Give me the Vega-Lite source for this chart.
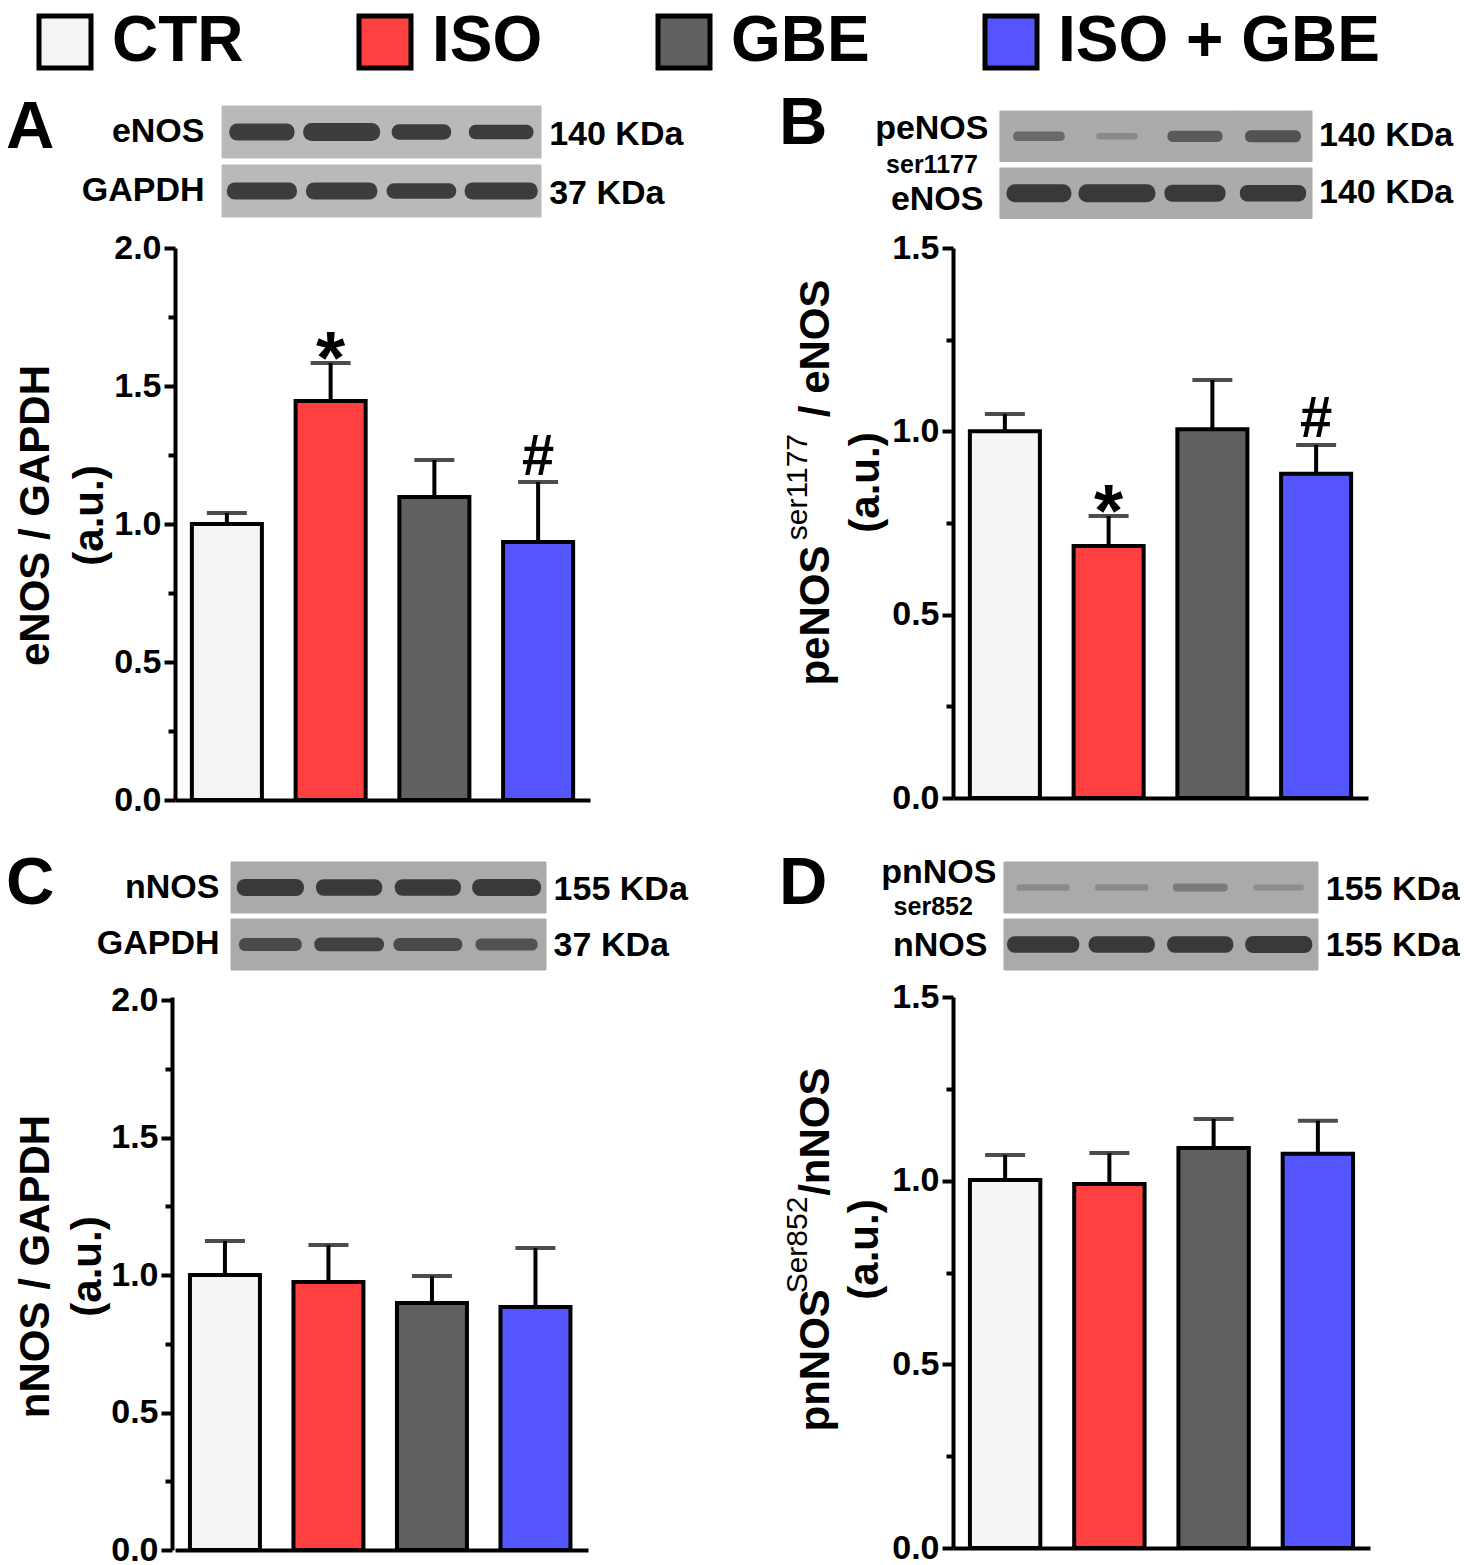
{"$schema":"https://vega.github.io/schema/vega-lite/v6.json","background":"white","padding":{"left":6,"top":10,"right":0,"bottom":0},"autosize":{"type":"pad"},"columns":2,"spacing":{"row":27,"column":363},"bounds":"flush","align":"each","resolve":{"scale":{"fill":"shared"}},
"config":{"view":{"stroke":null},"font":"Liberation Sans","title":{"font":"Liberation Sans","fontWeight":"bold","fontSize":67,"anchor":"start","frame":"group","baseline":"alphabetic","offset":0,"color":"black"},"axis":{"grid":false,"domainColor":"black","domainWidth":4,"tickColor":"black","tickWidth":4,"labelColor":"black","titleColor":"black","labelFont":"Liberation Sans","titleFont":"Liberation Sans","labelFontWeight":"bold","titleFontWeight":"bold","labelFontSize":34,"titleFontSize":42,"titleAngle":270,"titleAlign":"center","titleBaseline":"alphabetic","labelPadding":3}},
"concat":[
{"width":415,"height":115,"title":{"text":"A","dx":-169,"dy":60},"data":{"values":[
{"lane":"CTR","protein":"eNOS","extent":0.82,"density":0.95,"kda":"140 KDa"},{"lane":"ISO","protein":"eNOS","extent":1.0,"density":1.0,"kda":"140 KDa"},{"lane":"GBE","protein":"eNOS","extent":0.75,"density":0.85,"kda":"140 KDa"},{"lane":"ISO + GBE","protein":"eNOS","extent":0.85,"density":0.8,"kda":"140 KDa"},
{"lane":"CTR","protein":"GAPDH","extent":0.9,"density":0.95,"kda":"37 KDa"},{"lane":"ISO","protein":"GAPDH","extent":0.92,"density":0.95,"kda":"37 KDa"},{"lane":"GBE","protein":"GAPDH","extent":0.92,"density":0.85,"kda":"37 KDa"},{"lane":"ISO + GBE","protein":"GAPDH","extent":0.95,"density":0.95,"kda":"37 KDa"}]},
"encoding":{"x":{"field":"lane","type":"nominal","axis":null,"scale":{"domain":["CTR","ISO","GBE","ISO + GBE"],"paddingInner":0,"paddingOuter":0.602,"align":0.49}},"y":{"field":"protein","type":"nominal","title":null,"axis":{"offset":-47,"labelPadding":18,"domain":false,"ticks":false,"title":null},"scale":{"domain":["eNOS","GAPDH"],"paddingInner":0.119,"paddingOuter":0.034,"align":0}}},
"layer":[{"mark":{"type":"rect","fill":"#b9b9b9","stroke":"#b9b9b9","strokeWidth":1}},
{"mark":{"type":"tick","orient":"horizontal","thickness":1,"strokeJoin":"round"},"encoding":{"size":{"field":"extent","type":"quantitative","legend":null,"scale":{"domain":[0,1],"range":[0,60]}},"stroke":{"field":"density","type":"quantitative","legend":null,"scale":{"domain":[0.1,0.8],"clamp":true,"range":["#b9b9b9","#0a0a0a"]}},"strokeWidth":{"field":"density","type":"quantitative","legend":null,"scale":{"domain":[0,1],"range":[0,17]}}}},
{"transform":[{"filter":"datum.lane=='ISO + GBE'"}],"mark":{"type":"text","align":"left","baseline":"middle","dx":48,"dy":3,"fontSize":34,"fontWeight":"bold","color":"black"},"encoding":{"text":{"field":"kda","type":"nominal"}}}]},
{"width":415,"height":115,"title":{"text":"B","dx":-174,"dy":56},"data":{"values":[
{"lane":"CTR","protein":"peNOS","extent":0.72,"density":0.5,"kda":"140 KDa","note":"ser1177"},{"lane":"ISO","protein":"peNOS","extent":0.6,"density":0.32,"kda":"140 KDa"},{"lane":"GBE","protein":"peNOS","extent":0.75,"density":0.6,"kda":"140 KDa"},{"lane":"ISO + GBE","protein":"peNOS","extent":0.75,"density":0.65,"kda":"140 KDa"},
{"lane":"CTR","protein":"eNOS","extent":0.8,"density":1.0,"kda":"140 KDa"},{"lane":"ISO","protein":"eNOS","extent":1.0,"density":1.0,"kda":"140 KDa"},{"lane":"GBE","protein":"eNOS","extent":0.75,"density":0.95,"kda":"140 KDa"},{"lane":"ISO + GBE","protein":"eNOS","extent":0.85,"density":0.9,"kda":"140 KDa"}]},
"encoding":{"x":{"field":"lane","type":"nominal","axis":null,"scale":{"domain":["CTR","ISO","GBE","ISO + GBE"],"paddingInner":0,"paddingOuter":0.66,"align":0.456}},"y":{"field":"protein","type":"nominal","title":null,"axis":{"offset":-47,"labelPadding":{"condition":{"test":"datum.value=='peNOS'","value":12},"value":17},"domain":false,"ticks":false,"title":null,"labelOffset":{"condition":{"test":"datum.value=='peNOS'","value":-7},"value":7}},"scale":{"domain":["peNOS","eNOS"],"paddingInner":0.114,"paddingOuter":0.066,"align":0.67}}},
"layer":[{"mark":{"type":"rect","fill":"#ababab","stroke":"#ababab","strokeWidth":1}},
{"mark":{"type":"tick","orient":"horizontal","thickness":1,"strokeJoin":"round"},"encoding":{"size":{"field":"extent","type":"quantitative","legend":null,"scale":{"domain":[0,1],"range":[0,60]}},"stroke":{"field":"density","type":"quantitative","legend":null,"scale":{"domain":[0.1,0.8],"clamp":true,"range":["#ababab","#0a0a0a"]}},"strokeWidth":{"field":"density","type":"quantitative","legend":null,"scale":{"domain":[0,1],"range":[0,17]}}}},
{"transform":[{"filter":"datum.lane=='ISO + GBE'"}],"mark":{"type":"text","align":"left","baseline":"middle","dx":46,"fontSize":34,"fontWeight":"bold","color":"black"},"encoding":{"text":{"field":"kda","type":"nominal"}}},
{"transform":[{"filter":"isValid(datum.note)"}],"mark":{"type":"text","align":"center","baseline":"middle","dx":-107,"dy":29,"fontSize":25,"fontWeight":"bold","color":"black"},"encoding":{"text":{"field":"note","type":"nominal"}}}]},
{"width":415,"height":552,"data":{"values":[{"lane":"CTR","mean":1.0,"upper":1.04},{"lane":"ISO","mean":1.446,"upper":1.583,"sig":"*"},{"lane":"GBE","mean":1.098,"upper":1.232},{"lane":"ISO + GBE","mean":0.935,"upper":1.152,"sig":"#"}]},
"encoding":{"x":{"field":"lane","type":"nominal","axis":{"title":null,"labels":false,"ticks":false},"scale":{"domain":["CTR","ISO","GBE","ISO + GBE"],"paddingInner":0.325,"paddingOuter":0.1625}},"y":{"type":"quantitative","field":"mean","scale":{"domain":[0,2],"nice":false},"axis":{"title":["eNOS / GAPDH","(a.u.)"],"titleX":-127,"titleY":267,"titleLineHeight":54,"values":[0,0.25,0.5,0.75,1,1.25,1.5,1.75,2],"labelExpr":"(datum.value*2)%1===0?format(datum.value,'.1f'):''","tickSize":{"condition":{"test":"(datum.value*2)%1===0","value":11},"value":7}}}},
"layer":[{"mark":{"type":"rule","color":"black","strokeWidth":4},"encoding":{"y2":{"field":"upper"}}},
{"mark":{"type":"tick","orient":"horizontal","color":"black","size":40,"thickness":4},"encoding":{"y":{"field":"upper","type":"quantitative"}}},
{"mark":{"type":"bar","stroke":"black","strokeWidth":4},"encoding":{"fill":{"field":"lane","type":"nominal","scale":{"domain":["CTR","ISO","GBE","ISO + GBE"],"range":["#f5f5f5","#ff4040","#606060","#5555ff"]},"legend":{"orient":"none","legendX":-142,"legendY":-96,"direction":"horizontal","columns":4,"title":null,"symbolType":"square","symbolSize":2704,"symbolStrokeColor":"black","symbolStrokeWidth":5,"symbolOpacity":1,"labelFontSize":64,"labelFontWeight":"bold","labelFont":"Liberation Sans","labelColor":"black","labelLimit":500,"labelOffset":15,"columnPadding":105,"padding":0}}}},
{"transform":[{"filter":"datum.sig=='*'"}],"mark":{"type":"text","baseline":"alphabetic","dy":20,"fontSize":75,"fontWeight":"bold","color":"black"},"encoding":{"y":{"field":"upper","type":"quantitative"},"text":{"field":"sig","type":"nominal"}}},
{"transform":[{"filter":"datum.sig=='#'"}],"mark":{"type":"text","baseline":"alphabetic","dy":-7,"fontSize":58,"fontWeight":"bold","color":"black"},"encoding":{"y":{"field":"upper","type":"quantitative"},"text":{"field":"sig","type":"nominal"}}}]},
{"width":415,"height":550,"data":{"values":[{"lane":"CTR","mean":1.0,"upper":1.047},{"lane":"ISO","mean":0.687,"upper":0.769,"sig":"*"},{"lane":"GBE","mean":1.006,"upper":1.14},{"lane":"ISO + GBE","mean":0.884,"upper":0.963,"sig":"#"}]},
"encoding":{"x":{"field":"lane","type":"nominal","axis":{"title":null,"labels":false,"ticks":false},"scale":{"domain":["CTR","ISO","GBE","ISO + GBE"],"paddingInner":0.325,"paddingOuter":0.1625}},"y":{"type":"quantitative","field":"mean","scale":{"domain":[0,1.5],"nice":false},"axis":{"title":["peNOS\u00a0\u00a0\u00a0\u00a0\u00a0\u00a0\u00a0\u00a0\u00a0\u00a0 / eNOS","(a.u.)"],"titleX":-125,"titleY":234,"titleLineHeight":50,"values":[0,0.25,0.5,0.75,1,1.25,1.5],"labelExpr":"(datum.value*2)%1===0?format(datum.value,'.1f'):''","tickSize":{"condition":{"test":"(datum.value*2)%1===0","value":11},"value":7}}}},
"layer":[{"mark":{"type":"rule","color":"black","strokeWidth":4},"encoding":{"y2":{"field":"upper"}}},
{"mark":{"type":"tick","orient":"horizontal","color":"black","size":40,"thickness":4},"encoding":{"y":{"field":"upper","type":"quantitative"}}},
{"mark":{"type":"bar","stroke":"black","strokeWidth":4},"encoding":{"fill":{"field":"lane","type":"nominal","scale":{"domain":["CTR","ISO","GBE","ISO + GBE"],"range":["#f5f5f5","#ff4040","#606060","#5555ff"]},"legend":{"orient":"none","legendX":-142,"legendY":-96,"direction":"horizontal","columns":4,"title":null,"symbolType":"square","symbolSize":2704,"symbolStrokeColor":"black","symbolStrokeWidth":5,"symbolOpacity":1,"labelFontSize":64,"labelFontWeight":"bold","labelFont":"Liberation Sans","labelColor":"black","labelLimit":500,"labelOffset":15,"columnPadding":105,"padding":0}}}},
{"transform":[{"filter":"datum.sig=='*'"}],"mark":{"type":"text","baseline":"alphabetic","dy":20,"fontSize":75,"fontWeight":"bold","color":"black"},"encoding":{"y":{"field":"upper","type":"quantitative"},"text":{"field":"sig","type":"nominal"}}},
{"transform":[{"filter":"datum.sig=='#'"}],"mark":{"type":"text","baseline":"alphabetic","dy":-8,"fontSize":58,"fontWeight":"bold","color":"black"},"encoding":{"y":{"field":"upper","type":"quantitative"},"text":{"field":"sig","type":"nominal"}}},
{"data":{"values":[{"lane":"CTR","at":0.848,"note":"ser1177"}]},"mark":{"type":"text","angle":270,"align":"center","baseline":"alphabetic","dy":-198,"fontSize":30,"color":"black"},"encoding":{"y":{"field":"at","type":"quantitative"},"text":{"field":"note","type":"nominal"}}}]},
{"width":415,"height":143,"title":{"text":"C","dx":-169,"dy":95},"data":{"values":[
{"lane":"CTR","protein":"nNOS","extent":0.85,"density":0.95,"kda":"155 KDa"},{"lane":"ISO","protein":"nNOS","extent":0.85,"density":0.9,"kda":"155 KDa"},{"lane":"GBE","protein":"nNOS","extent":0.85,"density":0.9,"kda":"155 KDa"},{"lane":"ISO + GBE","protein":"nNOS","extent":0.88,"density":0.95,"kda":"155 KDa"},
{"lane":"CTR","protein":"GAPDH","extent":0.85,"density":0.7,"kda":"37 KDa"},{"lane":"ISO","protein":"GAPDH","extent":0.95,"density":0.75,"kda":"37 KDa"},{"lane":"GBE","protein":"GAPDH","extent":0.95,"density":0.7,"kda":"37 KDa"},{"lane":"ISO + GBE","protein":"GAPDH","extent":0.85,"density":0.65,"kda":"37 KDa"}]},
"encoding":{"x":{"field":"lane","type":"nominal","axis":null,"scale":{"domain":["CTR","ISO","GBE","ISO + GBE"],"paddingInner":0,"paddingOuter":0.635,"align":0.56}},"y":{"field":"protein","type":"nominal","title":null,"axis":{"offset":-56,"labelPadding":12,"domain":false,"ticks":false,"title":null},"scale":{"domain":["nNOS","GAPDH"],"paddingInner":0.105,"paddingOuter":0.307,"align":1}}},
"layer":[{"mark":{"type":"rect","fill":"#aaaaaa","stroke":"#aaaaaa","strokeWidth":1}},
{"mark":{"type":"tick","orient":"horizontal","thickness":1,"strokeJoin":"round"},"encoding":{"size":{"field":"extent","type":"quantitative","legend":null,"scale":{"domain":[0,1],"range":[0,60]}},"stroke":{"field":"density","type":"quantitative","legend":null,"scale":{"domain":[0.1,0.8],"clamp":true,"range":["#aaaaaa","#0a0a0a"]}},"strokeWidth":{"field":"density","type":"quantitative","legend":null,"scale":{"domain":[0,1],"range":[0,17]}}}},
{"transform":[{"filter":"datum.lane=='ISO + GBE'"}],"mark":{"type":"text","align":"left","baseline":"middle","dx":47,"dy":2,"fontSize":34,"fontWeight":"bold","color":"black"},"encoding":{"text":{"field":"kda","type":"nominal"}}}]},
{"width":417,"height":143,"title":{"text":"D","dx":-174,"dy":95},"data":{"values":[
{"lane":"CTR","protein":"pnNOS","extent":0.8,"density":0.32,"kda":"155 KDa","note":"ser852"},{"lane":"ISO","protein":"pnNOS","extent":0.8,"density":0.32,"kda":"155 KDa"},{"lane":"GBE","protein":"pnNOS","extent":0.8,"density":0.4,"kda":"155 KDa"},{"lane":"ISO + GBE","protein":"pnNOS","extent":0.75,"density":0.3,"kda":"155 KDa"},
{"lane":"CTR","protein":"nNOS","extent":0.95,"density":0.9,"kda":"155 KDa"},{"lane":"ISO","protein":"nNOS","extent":0.85,"density":0.9,"kda":"155 KDa"},{"lane":"GBE","protein":"nNOS","extent":0.85,"density":0.9,"kda":"155 KDa"},{"lane":"ISO + GBE","protein":"nNOS","extent":0.85,"density":0.95,"kda":"155 KDa"}]},
"encoding":{"x":{"field":"lane","type":"nominal","axis":null,"scale":{"domain":["CTR","ISO","GBE","ISO + GBE"],"paddingInner":0,"paddingOuter":0.656,"align":0.495}},"y":{"field":"protein","type":"nominal","title":null,"axis":{"offset":-51,"labelPadding":{"condition":{"test":"datum.value=='pnNOS'","value":8},"value":17},"domain":false,"ticks":false,"title":null,"labelOffset":{"condition":{"test":"datum.value=='pnNOS'","value":-15},"value":2}},"scale":{"domain":["pnNOS","nNOS"],"paddingInner":0.105,"paddingOuter":0.307,"align":1}}},
"layer":[{"mark":{"type":"rect","fill":"#aaaaaa","stroke":"#aaaaaa","strokeWidth":1}},
{"mark":{"type":"tick","orient":"horizontal","thickness":1,"strokeJoin":"round"},"encoding":{"size":{"field":"extent","type":"quantitative","legend":null,"scale":{"domain":[0,1],"range":[0,60]}},"stroke":{"field":"density","type":"quantitative","legend":null,"scale":{"domain":[0.1,0.8],"clamp":true,"range":["#aaaaaa","#0a0a0a"]}},"strokeWidth":{"field":"density","type":"quantitative","legend":null,"scale":{"domain":[0,1],"range":[0,17]}}}},
{"transform":[{"filter":"datum.lane=='ISO + GBE'"}],"mark":{"type":"text","align":"left","baseline":"middle","dx":47,"dy":2,"fontSize":34,"fontWeight":"bold","color":"black"},"encoding":{"text":{"field":"kda","type":"nominal"}}},
{"transform":[{"filter":"isValid(datum.note)"}],"mark":{"type":"text","align":"center","baseline":"middle","dx":-110,"dy":19,"fontSize":25,"fontWeight":"bold","color":"black"},"encoding":{"text":{"field":"note","type":"nominal"}}}]},
{"width":413,"height":553,"data":{"values":[{"lane":"CTR","mean":1.0,"upper":1.124},{"lane":"ISO","mean":0.975,"upper":1.109},{"lane":"GBE","mean":0.898,"upper":0.996},{"lane":"ISO + GBE","mean":0.884,"upper":1.098}]},
"encoding":{"x":{"field":"lane","type":"nominal","axis":{"title":null,"labels":false,"ticks":false},"scale":{"domain":["CTR","ISO","GBE","ISO + GBE"],"paddingInner":0.324,"paddingOuter":0.157,"align":0.46}},"y":{"type":"quantitative","field":"mean","scale":{"domain":[0,2.011],"nice":false},"axis":{"offset":3,"title":["nNOS / GAPDH","(a.u.)"],"titleX":-124,"titleY":269,"titleLineHeight":52,"values":[0,0.25,0.5,0.75,1,1.25,1.5,1.75,2],"labelExpr":"(datum.value*2)%1===0?format(datum.value,'.1f'):''","tickSize":{"condition":{"test":"(datum.value*2)%1===0","value":11},"value":7}}}},
"layer":[{"mark":{"type":"rule","color":"black","strokeWidth":4},"encoding":{"y2":{"field":"upper"}}},
{"mark":{"type":"tick","orient":"horizontal","color":"black","size":40,"thickness":4},"encoding":{"y":{"field":"upper","type":"quantitative"}}},
{"mark":{"type":"bar","stroke":"black","strokeWidth":4},"encoding":{"fill":{"field":"lane","type":"nominal","scale":{"domain":["CTR","ISO","GBE","ISO + GBE"],"range":["#f5f5f5","#ff4040","#606060","#5555ff"]},"legend":{"orient":"none","legendX":-142,"legendY":-96,"direction":"horizontal","columns":4,"title":null,"symbolType":"square","symbolSize":2704,"symbolStrokeColor":"black","symbolStrokeWidth":5,"symbolOpacity":1,"labelFontSize":64,"labelFontWeight":"bold","labelFont":"Liberation Sans","labelColor":"black","labelLimit":500,"labelOffset":15,"columnPadding":105,"padding":0}}}}]},
{"width":417,"height":551,"data":{"values":[{"lane":"CTR","mean":1.002,"upper":1.07},{"lane":"ISO","mean":0.991,"upper":1.075},{"lane":"GBE","mean":1.089,"upper":1.168},{"lane":"ISO + GBE","mean":1.073,"upper":1.163}]},
"encoding":{"x":{"field":"lane","type":"nominal","axis":{"title":null,"labels":false,"ticks":false},"scale":{"domain":["CTR","ISO","GBE","ISO + GBE"],"paddingInner":0.325,"paddingOuter":0.1625}},"y":{"type":"quantitative","field":"mean","scale":{"domain":[0,1.5],"nice":false},"axis":{"title":["pnNOS\u00a0\u00a0\u00a0\u00a0\u00a0\u00a0\u00a0\u00a0/nNOS","(a.u.)"],"titleX":-125,"titleY":252,"titleLineHeight":49,"values":[0,0.25,0.5,0.75,1,1.25,1.5],"labelExpr":"(datum.value*2)%1===0?format(datum.value,'.1f'):''","tickSize":{"condition":{"test":"(datum.value*2)%1===0","value":11},"value":7}}}},
"layer":[{"mark":{"type":"rule","color":"black","strokeWidth":4},"encoding":{"y2":{"field":"upper"}}},
{"mark":{"type":"tick","orient":"horizontal","color":"black","size":40,"thickness":4},"encoding":{"y":{"field":"upper","type":"quantitative"}}},
{"mark":{"type":"bar","stroke":"black","strokeWidth":4},"encoding":{"fill":{"field":"lane","type":"nominal","scale":{"domain":["CTR","ISO","GBE","ISO + GBE"],"range":["#f5f5f5","#ff4040","#606060","#5555ff"]},"legend":{"orient":"none","legendX":-142,"legendY":-96,"direction":"horizontal","columns":4,"title":null,"symbolType":"square","symbolSize":2704,"symbolStrokeColor":"black","symbolStrokeWidth":5,"symbolOpacity":1,"labelFontSize":64,"labelFontWeight":"bold","labelFont":"Liberation Sans","labelColor":"black","labelLimit":500,"labelOffset":15,"columnPadding":105,"padding":0}}}},
{"data":{"values":[{"lane":"CTR","at":0.825,"note":"Ser852"}]},"mark":{"type":"text","angle":270,"align":"center","baseline":"alphabetic","dy":-198,"fontSize":30,"color":"black"},"encoding":{"y":{"field":"at","type":"quantitative"},"text":{"field":"note","type":"nominal"}}}]}
]}
